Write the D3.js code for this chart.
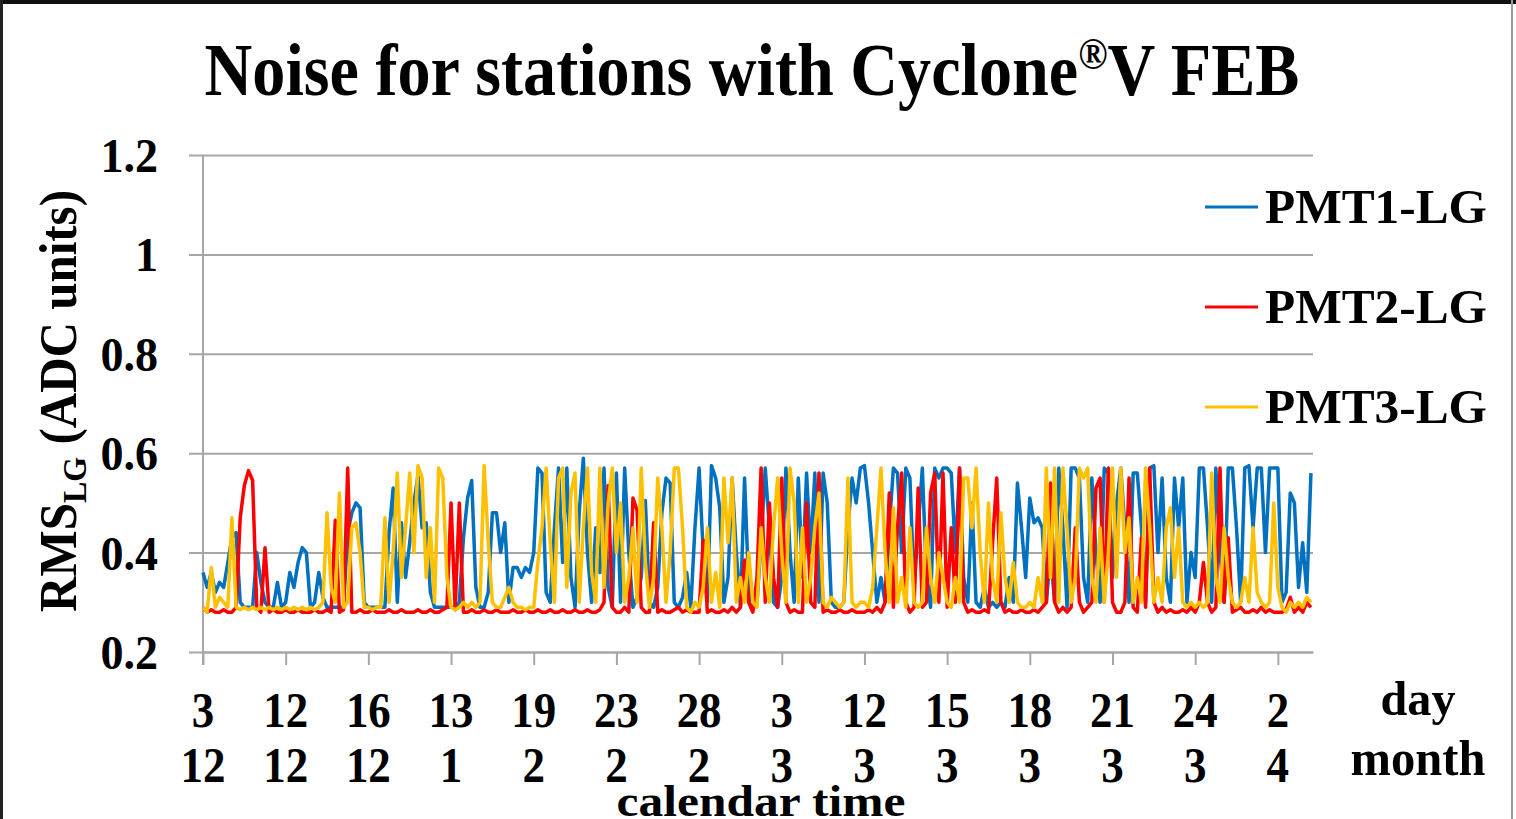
<!DOCTYPE html>
<html><head><meta charset="utf-8">
<script src="https://cdn.jsdelivr.net/npm/d3@7"></script>
<style>html,body{margin:0;padding:0;background:#fff;overflow:hidden}svg{display:block}</style>
</head><body>
<svg id="c" width="1516" height="819"></svg>
<script>
// ---------- data ----------
const dayLabels   = ["3","12","16","13","19","23","28","3","12","15","18","21","24","2"];
const monthLabels = ["12","12","12","1","2","2","2","3","3","3","3","3","3","4"];
const yTicks = [0.2,0.4,0.6,0.8,1,1.2];
const seriesNames = ["PMT1-LG","PMT2-LG","PMT3-LG"];

const pmt1 = [
0.36,0.33,0.36,0.32,0.34,0.33,0.38,0.43,0.44,0.30,0.29,0.29,0.29,0.40,0.34,0.30,0.29,0.29,0.34,0.29,
0.30,0.36,0.33,0.38,0.41,0.40,0.29,0.30,0.36,0.31,0.29,0.29,0.29,0.29,0.29,0.44,0.48,0.50,0.49,0.30,
0.29,0.29,0.29,0.29,0.29,0.44,0.53,0.30,0.46,0.35,0.42,0.50,0.555,0.45,0.46,0.32,0.29,0.29,0.29,0.29,
0.29,0.29,0.30,0.43,0.51,0.545,0.33,0.29,0.29,0.32,0.48,0.48,0.40,0.46,0.30,0.37,0.37,0.35,0.37,0.36,
0.40,0.57,0.56,0.32,0.30,0.45,0.57,0.38,0.57,0.35,0.29,0.48,0.59,0.40,0.30,0.45,0.36,0.57,0.33,0.29,
0.56,0.30,0.57,0.40,0.29,0.31,0.35,0.505,0.30,0.29,0.33,0.48,0.55,0.54,0.30,0.29,0.31,0.36,0.29,0.45,
0.57,0.40,0.30,0.575,0.55,0.49,0.30,0.35,0.55,0.40,0.29,0.55,0.33,0.29,0.30,0.42,0.57,0.45,0.30,0.29,
0.35,0.57,0.40,0.30,0.55,0.35,0.56,0.40,0.56,0.30,0.56,0.50,0.30,0.29,0.29,0.30,0.45,0.55,0.50,0.57,
0.575,0.50,0.40,0.30,0.35,0.30,0.45,0.57,0.56,0.40,0.57,0.55,0.33,0.45,0.57,0.35,0.29,0.57,0.55,0.57,
0.57,0.56,0.40,0.57,0.35,0.30,0.50,0.30,0.29,0.33,0.29,0.30,0.29,0.30,0.29,0.35,0.30,0.54,0.45,0.35,
0.51,0.46,0.47,0.45,0.30,0.40,0.30,0.57,0.45,0.29,0.57,0.57,0.55,0.35,0.30,0.55,0.40,0.30,0.57,0.56,
0.35,0.50,0.57,0.45,0.30,0.56,0.56,0.45,0.30,0.57,0.575,0.40,0.55,0.35,0.30,0.55,0.45,0.55,0.30,0.40,
0.35,0.57,0.57,0.45,0.30,0.57,0.40,0.30,0.57,0.57,0.45,0.30,0.57,0.575,0.45,0.57,0.57,0.40,0.57,0.57,
0.57,0.30,0.32,0.52,0.50,0.33,0.42,0.32,0.56
];
const pmt2 = [
0.29,0.28,0.285,0.28,0.28,0.285,0.28,0.28,0.29,0.47,0.535,0.565,0.545,0.29,0.28,0.41,0.28,0.285,0.28,0.28,
0.285,0.28,0.28,0.285,0.28,0.28,0.28,0.285,0.28,0.28,0.285,0.28,0.465,0.28,0.285,0.57,0.28,0.28,0.285,0.28,
0.28,0.285,0.28,0.28,0.28,0.285,0.28,0.28,0.285,0.28,0.28,0.28,0.285,0.28,0.28,0.285,0.28,0.28,0.285,0.29,
0.50,0.285,0.50,0.28,0.28,0.285,0.28,0.28,0.285,0.28,0.28,0.285,0.28,0.28,0.28,0.285,0.28,0.28,0.285,0.28,
0.28,0.285,0.28,0.28,0.285,0.28,0.28,0.285,0.28,0.28,0.285,0.28,0.28,0.285,0.28,0.28,0.285,0.30,0.535,0.29,
0.28,0.28,0.29,0.28,0.51,0.485,0.29,0.28,0.28,0.46,0.28,0.285,0.28,0.28,0.285,0.29,0.28,0.285,0.28,0.28,
0.28,0.425,0.28,0.285,0.28,0.28,0.285,0.28,0.29,0.28,0.29,0.385,0.30,0.28,0.35,0.57,0.30,0.50,0.35,0.29,
0.55,0.30,0.28,0.285,0.28,0.28,0.50,0.30,0.29,0.56,0.28,0.285,0.28,0.28,0.285,0.28,0.28,0.285,0.28,0.28,
0.28,0.285,0.28,0.29,0.28,0.30,0.52,0.29,0.45,0.56,0.30,0.28,0.29,0.53,0.29,0.30,0.52,0.56,0.30,0.56,
0.29,0.45,0.30,0.57,0.30,0.28,0.285,0.28,0.28,0.285,0.28,0.42,0.55,0.30,0.28,0.285,0.28,0.28,0.285,0.28,
0.28,0.285,0.28,0.29,0.30,0.54,0.30,0.28,0.29,0.28,0.29,0.45,0.30,0.28,0.29,0.30,0.53,0.55,0.30,0.57,
0.30,0.28,0.28,0.30,0.55,0.29,0.28,0.43,0.29,0.57,0.30,0.28,0.29,0.28,0.285,0.28,0.28,0.285,0.28,0.29,
0.28,0.30,0.38,0.30,0.28,0.29,0.57,0.30,0.43,0.28,0.285,0.29,0.28,0.28,0.285,0.28,0.29,0.28,0.285,0.28,
0.28,0.28,0.285,0.31,0.28,0.29,0.28,0.30,0.29
];
const pmt3 = [
0.29,0.28,0.37,0.29,0.31,0.30,0.29,0.47,0.29,0.285,0.29,0.285,0.29,0.285,0.29,0.285,0.29,0.285,0.29,0.285,
0.29,0.285,0.29,0.285,0.29,0.285,0.29,0.285,0.29,0.30,0.48,0.33,0.30,0.52,0.29,0.30,0.45,0.46,0.40,0.29,
0.29,0.285,0.29,0.29,0.47,0.30,0.40,0.56,0.35,0.45,0.56,0.40,0.575,0.55,0.35,0.45,0.30,0.57,0.55,0.35,
0.29,0.285,0.29,0.30,0.29,0.30,0.29,0.30,0.575,0.42,0.30,0.29,0.29,0.31,0.33,0.30,0.29,0.29,0.285,0.29,
0.29,0.38,0.45,0.57,0.42,0.30,0.55,0.57,0.33,0.52,0.56,0.30,0.45,0.57,0.36,0.30,0.57,0.33,0.50,0.57,
0.40,0.50,0.30,0.35,0.45,0.30,0.57,0.38,0.29,0.35,0.55,0.45,0.30,0.40,0.57,0.57,0.45,0.29,0.28,0.30,
0.29,0.33,0.45,0.30,0.36,0.29,0.55,0.42,0.55,0.30,0.35,0.30,0.40,0.30,0.29,0.45,0.35,0.30,0.45,0.55,
0.40,0.30,0.57,0.50,0.30,0.45,0.30,0.35,0.45,0.52,0.30,0.29,0.31,0.30,0.29,0.30,0.55,0.30,0.29,0.30,
0.30,0.29,0.33,0.45,0.57,0.40,0.30,0.49,0.30,0.35,0.29,0.45,0.30,0.29,0.30,0.45,0.35,0.30,0.40,0.35,
0.30,0.29,0.35,0.30,0.55,0.55,0.45,0.57,0.40,0.30,0.50,0.35,0.30,0.48,0.35,0.30,0.38,0.30,0.29,0.29,
0.30,0.29,0.35,0.30,0.57,0.35,0.57,0.30,0.57,0.45,0.30,0.35,0.57,0.55,0.57,0.35,0.30,0.45,0.30,0.40,
0.57,0.35,0.57,0.40,0.47,0.30,0.35,0.30,0.57,0.45,0.30,0.35,0.30,0.45,0.49,0.35,0.45,0.30,0.29,0.30,
0.29,0.30,0.29,0.30,0.56,0.35,0.30,0.45,0.35,0.30,0.29,0.30,0.35,0.30,0.45,0.32,0.30,0.29,0.30,0.50,
0.33,0.29,0.28,0.30,0.29,0.30,0.29,0.31,0.30
];
const pointsPerLabel = 20;

// ---------- drawing ----------
const svg = d3.select("#c");
const FONT = "'Liberation Serif','Times New Roman',serif";
const colors = ["#0070C0","#FF0000","#FFC000"];
const grid = "#A6A6A6";
const L = 203, R = 1313, T = 155, B = 652;

const x = d3.scaleLinear().domain([0, 268.5]).range([L, R]);
const y = d3.scaleLinear().domain([0.2, 1.2]).range([B, T]);

svg.append("rect").attr("width",1516).attr("height",819).attr("fill","#fff");
// frame
svg.append("rect").attr("x",0).attr("y",0).attr("width",1516).attr("height",4).attr("fill","#111");
svg.append("rect").attr("x",0).attr("y",0).attr("width",3).attr("height",819).attr("fill","#222");
svg.append("rect").attr("x",1511).attr("y",0).attr("width",2).attr("height",819).attr("fill","#999");

function label(parent, o, build){
  const g = parent.append("g").attr("transform", `translate(${o.x},${o.y}) rotate(${o.rotate||0})`);
  const t = g.append("text").attr("font-family", FONT).attr("font-weight","bold")
    .attr("font-size", o.size).attr("text-anchor", o.anchor||"middle").attr("fill","#000");
  build(t);
  let sx = o.sx || 1;
  if (o.width) { sx = o.width / t.node().getBBox().width; }
  t.attr("transform", `scale(${sx},${o.sy||1})`);
  return t;
}

// y grid + ticks
const yAxis = d3.axisLeft(y).tickValues(yTicks).tickSize(-(R - L)).tickSizeOuter(0).tickFormat("");
const gy = svg.append("g").attr("transform", `translate(${L},0)`).call(yAxis);
gy.select(".domain").remove();
gy.selectAll(".tick line").attr("stroke", grid).attr("stroke-width", 2).attr("x1", -14);
svg.append("line").attr("x1",L).attr("x2",L).attr("y1",T).attr("y2",B+13).attr("stroke",grid).attr("stroke-width",2);

// x ticks
const tickIdx = dayLabels.map((d,i)=> i*pointsPerLabel);
const xAxis = d3.axisBottom(x).tickValues(tickIdx).tickSize(13).tickSizeOuter(0).tickFormat("");
const gx = svg.append("g").attr("transform", `translate(0,${B})`).call(xAxis);
gx.select(".domain").attr("stroke", grid).attr("stroke-width", 2);
gx.selectAll(".tick line").attr("stroke", grid).attr("stroke-width", 2);

// y tick labels
yTicks.forEach(v=>{
  label(svg, {x:158, y:y(v)+17, size:48, anchor:"end", sx:0.96}, t=>t.text(d3.format("~g")(v)));
});
// x tick labels
tickIdx.forEach((v,i)=>{
  label(svg, {x:x(v), y:727, size:51, sx:0.88}, t=>t.text(dayLabels[i]));
  label(svg, {x:x(v), y:782, size:50, sx:0.9}, t=>t.text(monthLabels[i]));
});
label(svg, {x:1418, y:715, size:48, width:75}, t=>t.text("day"));
label(svg, {x:1418, y:775, size:50, width:135}, t=>t.text("month"));
label(svg, {x:761, y:816, size:44, width:289}, t=>t.text("calendar time"));

// title
label(svg, {x:752, y:95, size:74, width:1095}, t=>{
  t.append("tspan").text("Noise for stations with Cyclone");
  t.append("tspan").attr("font-size", 44).attr("dy", -26).text("®");
  t.append("tspan").attr("dy", 26).text("V FEB");
});
// y title
label(svg, {x:76, y:401, rotate:-90, size:52, width:422}, t=>{
  t.append("tspan").text("RMS");
  t.append("tspan").attr("font-size", 34).attr("dy", 10).text("LG");
  t.append("tspan").attr("dy", -10).text(" (ADC units)");
});

// series
const series = [pmt1, pmt2, pmt3];
const line = d3.line().x((d,i)=>x(i)).y(d=>y(d));
series.forEach((s,k)=>{
  svg.append("path").datum(s).attr("d", line).attr("fill","none")
    .attr("stroke", colors[k]).attr("stroke-width", 3.5).attr("stroke-linejoin","round");
});

// legend
seriesNames.forEach((n,k)=>{
  const cy = 207 + k*100;
  svg.append("line").attr("x1",1205).attr("x2",1258).attr("y1",cy).attr("y2",cy)
    .attr("stroke", colors[k]).attr("stroke-width", 3);
  label(svg, {x:1265, y:cy+16, size:48, anchor:"start", width:222}, t=>t.text(n));
});
</script>
</body></html>
